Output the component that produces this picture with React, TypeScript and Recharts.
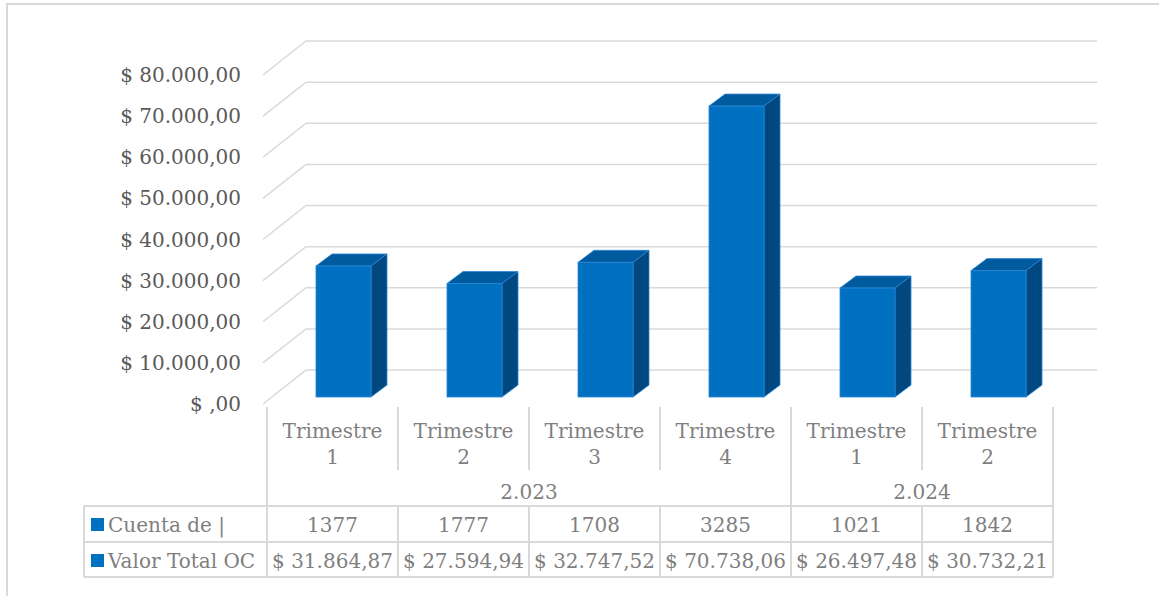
import React from 'react';
import { BarChart, Bar, XAxis, YAxis, CartesianGrid } from 'recharts';

// categories and values
const trimestres = ['Trimestre 1', 'Trimestre 2', 'Trimestre 3', 'Trimestre 4', 'Trimestre 1', 'Trimestre 2'];
const years = ['2.023', '2.024'];
const yearSpans = [4, 2];
const cuenta = [1377, 1777, 1708, 3285, 1021, 1842];
const valorTotal = [31864.87, 27594.94, 32747.52, 70738.06, 26497.48, 30732.21];
const rowNames = ['Cuenta de |', 'Valor Total OC'];
const yTicks = [0, 10000, 20000, 30000, 40000, 50000, 60000, 70000, 80000];

const data = trimestres.map((t, i) => ({
  key: String(i),
  trimestre: t,
  cuenta: cuenta[i],
  valor: valorTotal[i],
}));

const W = 1159;
const H = 596;
const LEFT = 267;
const RIGHT = 1053;
const BAND = (RIGHT - LEFT) / trimestres.length;
const FONT = '"DejaVu Serif", serif';
const GRID = '#d9d9d9';
const AXIS_TEXT = '#595959';
const TABLE_TEXT = '#7f7f7f';
const BLUE = '#0070c0';

// depth of the 3D floor and of the bars
const FLOOR_DX = 43;
const FLOOR_DY = 34;
const BAR_DX = 16;
const BAR_DY = 12;

const money = (v: number) => {
  const [int, dec] = v.toFixed(2).split('.');
  const intPart = int === '0' ? '' : int.replace(/\B(?=(\d{3})+(?!\d))/g, '.');
  return `$ ${intPart},${dec}`;
};

const groupStarts = yearSpans.map((_, i) => yearSpans.slice(0, i).reduce((a, b) => a + b, 0));

const Bar3D = (props: any) => {
  const { x, y, width, height } = props;
  const fx = x + 11;
  const fy = y - 7;
  const w = width;
  const h = height;
  return (
    <g>
      <polygon
        points={`${fx},${fy} ${fx + BAR_DX},${fy - BAR_DY} ${fx + w + BAR_DX},${fy - BAR_DY} ${fx + w},${fy}`}
        fill="#005a9e"
        stroke="#2a86d6"
        strokeWidth={0.8}
      />
      <polygon
        points={`${fx + w},${fy} ${fx + w + BAR_DX},${fy - BAR_DY} ${fx + w + BAR_DX},${fy + h - BAR_DY} ${fx + w},${fy + h}`}
        fill="#00487f"
        stroke="#2a86d6"
        strokeWidth={0.8}
      />
      <rect x={fx} y={fy} width={w} height={h} fill={BLUE} stroke="#2a86d6" strokeWidth={0.8} />
    </g>
  );
};

const GridLine = (props: any) => {
  const { y1, index } = props;
  const d = `M ${LEFT - 4} ${y1} L ${LEFT - 4 + FLOOR_DX} ${y1 - FLOOR_DY} L 1097 ${y1 - FLOOR_DY}`;
  return <path key={`g-${index}`} d={d} stroke={GRID} strokeWidth={1.5} fill="none" />;
};

const ColumnTick = (props: any) => {
  const { x, payload } = props;
  const i = Number(payload.value);
  const [word, num] = trimestres[i].split(' ');
  const left = x - BAND / 2;
  const isGroupStart = groupStarts.includes(i);
  const yearIdx = groupStarts.indexOf(i);
  const txt = { fill: TABLE_TEXT, fontSize: 20, fontFamily: FONT, textAnchor: 'middle' as const };
  return (
    <g>
      <text x={x} y={438} {...txt}>{word}</text>
      <text x={x} y={464} {...txt}>{num}</text>
      {isGroupStart ? (
        <line x1={left} x2={left} y1={407} y2={577} stroke={GRID} strokeWidth={2} />
      ) : (
        <>
          <line x1={left} x2={left} y1={407} y2={470} stroke={GRID} strokeWidth={2} />
          <line x1={left} x2={left} y1={506} y2={577} stroke={GRID} strokeWidth={2} />
        </>
      )}
      {i === trimestres.length - 1 && (
        <line x1={x + BAND / 2} x2={x + BAND / 2} y1={407} y2={577} stroke={GRID} strokeWidth={2} />
      )}
      {yearIdx >= 0 && (
        <text x={left + (yearSpans[yearIdx] * BAND) / 2} y={499} {...txt}>{years[yearIdx]}</text>
      )}
      <text x={x} y={532} {...txt}>{cuenta[i]}</text>
      <text x={x} y={568} {...txt}>{money(valorTotal[i])}</text>
      {i === 0 && (
        <g>
          {[506, 542, 577].map((yy) => (
            <line key={yy} x1={84} x2={RIGHT} y1={yy} y2={yy} stroke={GRID} strokeWidth={2} />
          ))}
          <line x1={84} x2={84} y1={506} y2={577} stroke={GRID} strokeWidth={2} />
          {rowNames.map((n, r) => (
            <g key={n}>
              <rect x={91} y={518 + r * 36} width={13} height={13} fill={BLUE} />
              <text x={108} y={532 + r * 36} fill={TABLE_TEXT} fontSize={20} fontFamily={FONT}>{n}</text>
            </g>
          ))}
        </g>
      )}
    </g>
  );
};

const App: React.FC = () => {
  return (
    <div style={{ position: 'absolute', left: 0, top: 0, width: W, height: H, overflow: 'hidden', background: '#fff' }}>
      <div
        style={{
          position: 'absolute',
          left: 6,
          top: 3,
          width: 1300,
          height: 700,
          borderLeft: `2px solid ${GRID}`,
          borderTop: `2px solid ${GRID}`,
        }}
      />
      <div style={{ position: 'absolute', left: 0, top: 0 }}>
        <BarChart width={W} height={H} data={data} margin={{ top: 75, right: W - RIGHT, left: LEFT - 100, bottom: 114 }}>
          <CartesianGrid vertical={false} horizontal={GridLine} />
          <XAxis
            dataKey="key"
            interval={0}
            axisLine={false}
            tickLine={false}
            height={78}
            tick={(p: any) => <ColumnTick {...p} />}
          />
          <YAxis
            width={100}
            domain={[0, 80000]}
            ticks={yTicks}
            tickFormatter={money}
            axisLine={false}
            tickLine={false}
            tickSize={0}
            tickMargin={26}
            tick={{ fill: AXIS_TEXT, fontSize: 20, fontFamily: FONT }}
          />
          <Bar dataKey="valor" barSize={55} shape={Bar3D} isAnimationActive={false} />
        </BarChart>
      </div>
    </div>
  );
};

export default App;
